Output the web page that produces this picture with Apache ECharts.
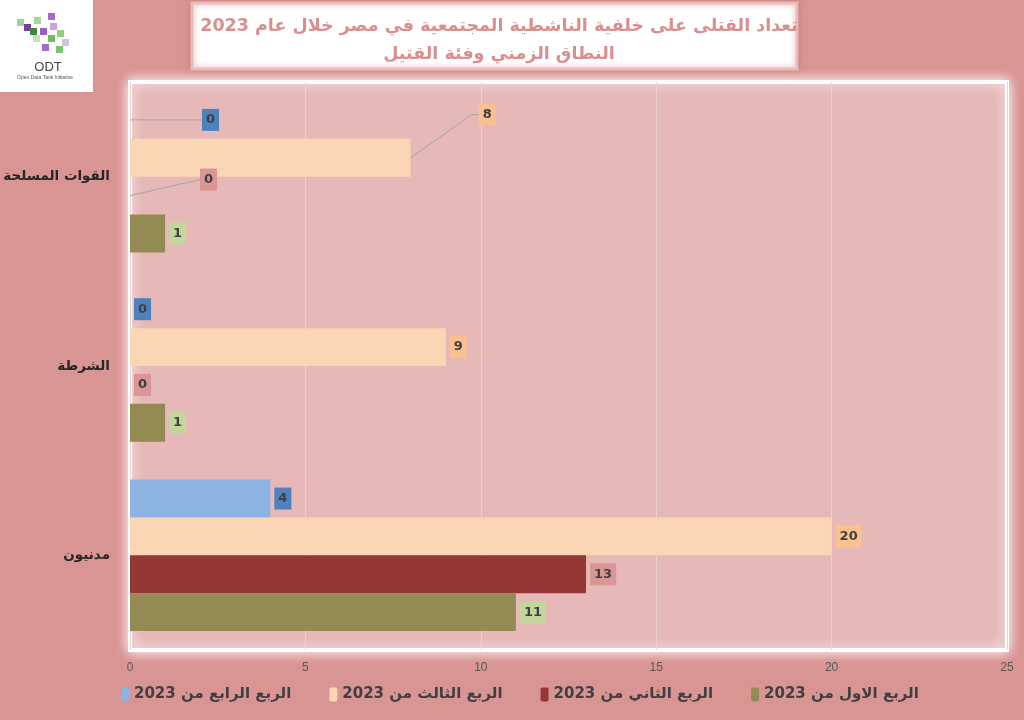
<!DOCTYPE html>
<html>
<head>
<meta charset="utf-8">
<script src="https://cdn.jsdelivr.net/npm/echarts@6/dist/echarts.min.js"></script>
<style>
    html, body { margin: 0; padding: 0; background: #d99594; }
    #chart { width: 1024px; height: 720px; }
</style>
</head>
<body>
<div id="chart" dir="rtl"></div>
<script>
// الفئات والقيم
var categories = ['مدنيون', 'الشرطة', 'القوات المسلحة'];
var seriesNames = ['الربع الرابع من 2023', 'الربع الثالث من 2023', 'الربع الثاني من 2023', 'الربع الاول من 2023'];
var q4 = [4, 0, 0];
var q3 = [20, 9, 8];
var q2 = [13, 0, 0];
var q1 = [11, 1, 1];
var xTicks = [0, 5, 10, 15, 20, 25];

;(function(){
    var chart = echarts.init(document.getElementById('chart'));

    var barColors = ['#8db3e2', '#fcd5b4', '#953735', '#948a54'];
    var labelColors = ['#4f81bd', '#fac090', '#da9694', '#c3d69b'];
    var values = [q4, q3, q2, q1];
    var labelDistance = 4;
    // إزاحة العناوين المنقولة (فئة القوات المسلحة) مع طول الكوع في خط الربط
    var moved = [[68, 0, 0], [64, -43, 7], [66, -16, 0], null];

    var series = values.map(function(vals, s){
        return {
            name: seriesNames[s],
            type: 'bar',
            barGap: '0%',
            barCategoryGap: '20%',
            itemStyle: { color: barColors[s] },
            data: vals,
            label: {
                show: true,
                position: 'right',
                distance: labelDistance,
                color: '#404040',
                fontWeight: 'bold',
                fontSize: 13,
                fontFamily: 'DejaVu Sans',
                backgroundColor: labelColors[s],
                padding: [5, 4, 4, 4]
            },
            labelLayout: function(params){
                if (params.dataIndex === 2 && moved[s]) {
                    return { dx: moved[s][0], dy: moved[s][1] };
                }
            }
        };
    });

    var graphics = [
        {
            type: 'rect', z: -1,
            shape: { x: 192, y: 3, width: 605, height: 66 },
            style: { fill: '#fff', stroke: '#e8bcbb', lineWidth: 3, shadowBlur: 6, shadowColor: 'rgba(200,110,110,0.6)' }
        },
        {
            type: 'group',
            children: [
                { type: 'rect', shape: { x: 0, y: 0, width: 93, height: 92 }, style: { fill: '#fff' } },
                { type: 'rect', shape: { x: 48, y: 13, width: 7, height: 7 }, style: { fill: '#a46cc4' } },
                { type: 'rect', shape: { x: 34, y: 17, width: 7, height: 7 }, style: { fill: '#a5d89a' } },
                { type: 'rect', shape: { x: 17, y: 19, width: 7, height: 7 }, style: { fill: '#a2d49a' } },
                { type: 'rect', shape: { x: 24, y: 24, width: 7, height: 7 }, style: { fill: '#7a3f96' } },
                { type: 'rect', shape: { x: 50, y: 23, width: 7, height: 7 }, style: { fill: '#c9a3dc' } },
                { type: 'rect', shape: { x: 30, y: 28, width: 7, height: 7 }, style: { fill: '#3f8a3f' } },
                { type: 'rect', shape: { x: 40, y: 28, width: 7, height: 7 }, style: { fill: '#9b5fbf' } },
                { type: 'rect', shape: { x: 57, y: 30, width: 7, height: 7 }, style: { fill: '#8fd07f' } },
                { type: 'rect', shape: { x: 33, y: 35, width: 7, height: 7 }, style: { fill: '#c3e3b9' } },
                { type: 'rect', shape: { x: 48, y: 35, width: 7, height: 7 }, style: { fill: '#6cbd5f' } },
                { type: 'rect', shape: { x: 62, y: 39, width: 7, height: 7 }, style: { fill: '#d6bde6' } },
                { type: 'rect', shape: { x: 42, y: 44, width: 7, height: 7 }, style: { fill: '#a46cc4' } },
                { type: 'rect', shape: { x: 56, y: 46, width: 7, height: 7 }, style: { fill: '#7cc56d' } },
                { type: 'text', style: { x: 48, y: 67, text: 'ODT', fill: '#444', font: '13px Liberation Sans', align: 'center', verticalAlign: 'middle' } },
                { type: 'text', style: { x: 45, y: 78, text: 'Open Data Tank Initiative', fill: '#555', font: '5px Liberation Sans', align: 'center', verticalAlign: 'middle' } }
            ]
        }
    ];

    var option = {
        backgroundColor: '#d99594',
        animation: false,
        title: {
            text: 'تعداد القتلى على خلفية الناشطية المجتمعية في مصر خلال عام 2023\nالنطاق الزمني وفئة القتيل',
            left: 494,
            top: 7,
            textAlign: 'center',
            textStyle: {
                color: '#d98f8e',
                fontSize: 17.5,
                fontWeight: 'bold',
                lineHeight: 28,
                fontFamily: 'DejaVu Sans'
            }
        },
        graphic: graphics,
        legend: {
            data: seriesNames,
            bottom: 13,
            left: 116,
            itemWidth: 8,
            itemHeight: 14,
            itemGap: 38,
            textStyle: {
                color: '#404040',
                fontSize: 15,
                fontWeight: 'bold',
                fontFamily: 'DejaVu Sans'
            }
        },
        grid: {
            show: true,
            left: 130,
            right: 17,
            top: 82,
            bottom: 70,
            outerBoundsMode: 'none',
            containLabel: false,
            backgroundColor: '#e6b8b7',
            borderColor: '#fff',
            borderWidth: 4,
            shadowColor: '#fff',
            shadowBlur: 12
        },
        xAxis: {
            type: 'value',
            min: xTicks[0],
            max: xTicks[xTicks.length - 1],
            interval: 5,
            axisLine: { show: false },
            axisTick: { show: false },
            axisLabel: {
                color: '#595959',
                fontSize: 12,
                margin: 12,
                fontFamily: 'Liberation Sans'
            },
            splitLine: {
                lineStyle: { color: '#eed0cf', width: 1 }
            }
        },
        yAxis: {
            type: 'category',
            data: categories,
            axisLine: { show: false },
            axisTick: { show: false },
            axisLabel: {
                color: '#262626',
                fontSize: 13.5,
                fontWeight: 'bold',
                margin: 20,
                fontFamily: 'DejaVu Sans'
            }
        },
        series: series
    };

    chart.setOption(option);

    // خطوط الربط للعناوين المنقولة، محسوبة من تخطيط الأعمدة
    var labelHalfW = 8;
    moved.forEach(function(m, s){
        if (!m) return;
        var lay = chart.getModel().getSeriesByIndex(s).getData().getItemLayout(2);
        var sx = lay.x + lay.width, sy = lay.y + lay.height / 2;
        var ex = sx + labelDistance + m[0], ey = sy + m[1];
        graphics.push({
            type: 'polyline',
            z: 3,
            shape: { points: [[sx, sy], [ex - m[2], ey], [ex, ey]] },
            style: { stroke: '#a6a6a6', lineWidth: 1, fill: null }
        });
    });
    chart.setOption({ graphic: graphics });
})()
</script>
</body>
</html>
